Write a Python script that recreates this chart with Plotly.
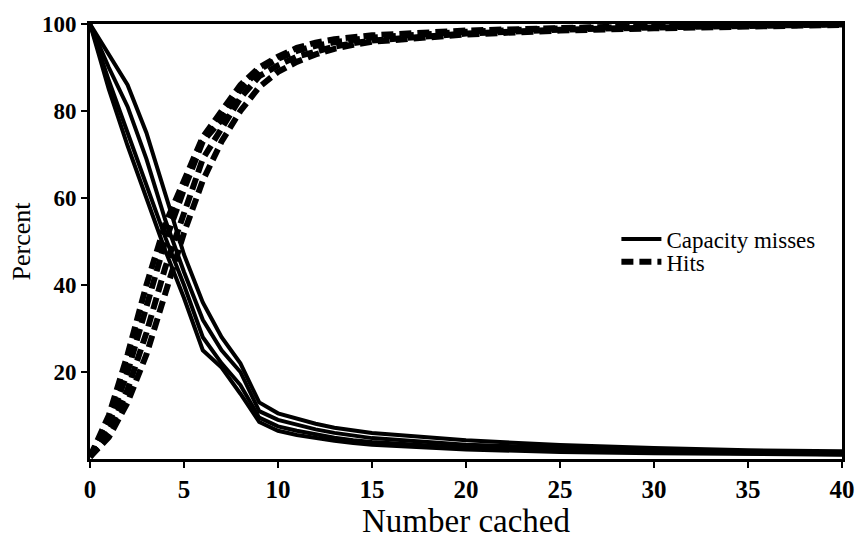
import plotly.graph_objects as go

# Number cached (x values)
cached = [0, 1, 2, 3, 4, 5, 6, 7, 8, 9, 10, 11, 12, 13, 14, 15, 20, 25, 30, 35, 40]

# Capacity misses (%) - four runs
miss_1 = [100, 85, 72, 60, 48, 37, 25, 21, 15, 8.5, 6.5, 5.5, 4.8, 4.2, 3.7, 3.3, 2.2, 1.6, 1.3, 1.1, 1.0]
miss_2 = [100, 87, 75, 63, 51, 40, 28, 22, 17, 9.5, 7.5, 6.5, 5.6, 4.9, 4.3, 3.9, 2.6, 2.0, 1.6, 1.3, 1.1]
miss_3 = [100, 93, 86, 75, 61, 47, 36, 28, 22, 13, 10.5, 9.2, 8.1, 7.2, 6.5, 6.0, 4.3, 3.2, 2.5, 2.0, 1.8]
miss_4 = [100, 90, 81, 69, 55, 43, 32, 25, 20, 11, 9.0, 7.8, 6.8, 6.0, 5.3, 4.8, 3.3, 2.5, 1.9, 1.6, 1.4]

# Hits (%) - four runs
hits_1 = [0.5, 10, 24, 40, 54, 64, 74, 80, 86, 90, 92.5, 94.5, 95.7, 96.5, 97.0, 97.4, 98.5, 99.2, 99.6, 99.8, 100]
hits_2 = [0.5, 8, 20, 35, 50, 62, 73, 78, 85, 89.5, 92, 93.8, 95.0, 95.8, 96.4, 96.9, 98.2, 99.0, 99.4, 99.7, 100]
hits_3 = [0.5, 6, 16, 29, 44, 57, 69, 76, 83, 88, 90.5, 92.5, 93.8, 94.8, 95.6, 96.2, 97.8, 98.7, 99.2, 99.6, 99.9]
hits_4 = [0.5, 5, 13, 24, 38, 52, 64, 73, 80, 85.5, 89, 91.3, 93.0, 94.3, 95.2, 95.9, 97.6, 98.5, 99.0, 99.5, 99.8]

x_ticks = [0, 5, 10, 15, 20, 25, 30, 35, 40]
y_ticks = [20, 40, 60, 80, 100]

SERIF = "Liberation Serif, Times New Roman, serif"

fig = go.Figure()

for i, ys in enumerate([miss_1, miss_2, miss_3, miss_4]):
    fig.add_trace(go.Scatter(
        x=cached, y=ys, mode="lines",
        line=dict(color="black", width=4),
        name="Capacity misses", legendgroup="miss", showlegend=(i == 0),
        legend="legend",
    ))

for i, ys in enumerate([hits_1, hits_2, hits_3, hits_4]):
    fig.add_trace(go.Scatter(
        x=cached, y=ys, mode="lines",
        line=dict(color="black", width=6, dash="12px,6px"),
        name="Hits", legendgroup="hits", showlegend=(i == 0),
        legend="legend2",
    ))

leg_common = dict(xanchor="left", yanchor="top", bgcolor="rgba(0,0,0,0)",
                  font=dict(size=23, family=SERIF), itemwidth=40)

fig.update_layout(
    width=867, height=540,
    margin=dict(l=90, r=22, t=15, b=62),
    paper_bgcolor="white", plot_bgcolor="white",
    font=dict(family=SERIF, color="black", size=22),
    legend=dict(x=0.70, y=0.555, **leg_common),
    legend2=dict(x=0.70, y=0.503, **leg_common),
    xaxis=dict(
        range=[0, 40], tickvals=x_ticks, ticktext=[str(v) for v in x_ticks],
        showgrid=False, zeroline=False,
        showline=True, linecolor="black", linewidth=3, mirror=True,
        ticks="outside", ticklen=6, tickwidth=2, tickcolor="black",
        tickfont=dict(size=25, family=SERIF, weight="bold"),
        title=dict(text="Number cached", font=dict(size=33, family=SERIF), standoff=2),
    ),
    yaxis=dict(
        range=[0, 100], tickvals=y_ticks, ticktext=[str(v) for v in y_ticks],
        showgrid=False, zeroline=False,
        showline=True, linecolor="black", linewidth=3, mirror=True,
        ticks="outside", ticklen=6, tickwidth=2, tickcolor="black",
        tickfont=dict(size=23, family=SERIF, weight="bold"),
        title=dict(text="Percent", font=dict(size=26, family=SERIF), standoff=4),
    ),
)

fig.write_html("out.html")
